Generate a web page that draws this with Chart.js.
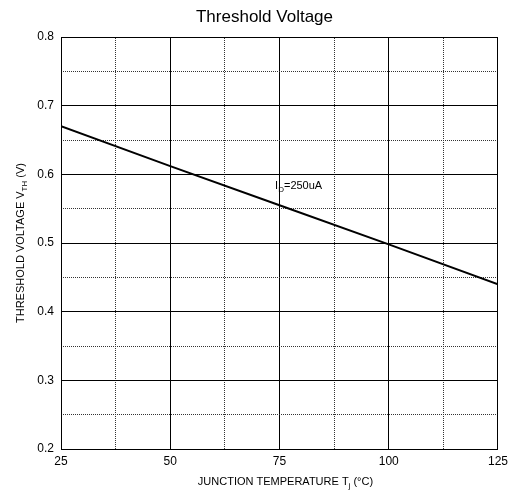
<!DOCTYPE html>
<html lang="en">
<head>
  <meta charset="UTF-8">
  <title>Threshold Voltage</title>
  <script src="https://cdn.jsdelivr.net/npm/chart.js"></script>
  <style>
    body { margin: 0; background: #fff; }
  </style>
</head>
<body>
  <canvas id="vthChart" width="513" height="494"></canvas>

  <script>
    // junction temperature (°C) and threshold voltage (V)
    const tempC = [25, 50, 75, 100, 125];
    const vth = [0.670, 0.612, 0.555, 0.498, 0.440];

    const xTicks = [25, 50, 75, 100, 125];
    const xMinor = [37.5, 62.5, 87.5, 112.5];
    const yTicks = [0.2, 0.3, 0.4, 0.5, 0.6, 0.7, 0.8];
    const yMinor = [0.25, 0.35, 0.45, 0.55, 0.65, 0.75];

    const FONT = '"Liberation Sans", Arial, sans-serif';

    // draws a run of text with optional subscript parts
    function drawRich(ctx, parts, x, y, size, align) {
      const subSize = Math.round(size * 0.7);
      let total = 0;
      parts.forEach(p => {
        ctx.font = (p.sub ? subSize : size) + 'px ' + FONT;
        p.w = ctx.measureText(p.t).width;
        total += p.w;
      });
      let cx = align === 'center' ? x - total / 2 : x;
      parts.forEach(p => {
        ctx.font = (p.sub ? subSize : size) + 'px ' + FONT;
        ctx.fillText(p.t, cx, p.sub ? y + 3 : y);
        cx += p.w;
      });
    }

    const labelsPlugin = {
      id: 'labels',
      afterDraw(chart) {
        const ctx = chart.ctx;
        const area = chart.chartArea;
        const sx = chart.scales.x, sy = chart.scales.y;
        ctx.save();
        ctx.fillStyle = '#000';
        ctx.textAlign = 'left';
        ctx.textBaseline = 'alphabetic';

        // annotation
        drawRich(ctx, [{t: 'I'}, {t: 'D', sub: true}, {t: '=250uA'}],
          sx.getPixelForValue(74), sy.getPixelForValue(0.579), 11, 'left');

        // x axis title
        drawRich(ctx, [{t: 'JUNCTION TEMPERATURE T'}, {t: 'j', sub: true}, {t: ' (°C)'}],
          (area.left + area.right) / 2 + 6, 485, 11, 'center');

        // y axis title
        ctx.translate(24, (area.top + area.bottom) / 2);
        ctx.rotate(-Math.PI / 2);
        drawRich(ctx, [{t: 'THRESHOLD VOLTAGE V'}, {t: 'TH', sub: true}, {t: ' (V)'}],
          0, 0, 11, 'center');
        ctx.restore();
      }
    };

    const ctx = document.getElementById('vthChart').getContext('2d');

    new Chart(ctx, {
      type: 'line',
      data: {
        datasets: [{
          data: tempC.map((t, i) => ({x: t, y: vth[i]})),
          borderColor: '#000',
          borderWidth: 2,
          pointRadius: 0,
          fill: false,
          tension: 0
        }]
      },
      options: {
        responsive: false,
        animation: false,
        layout: { padding: { left: 31, right: 15, top: 0, bottom: 0 } },
        plugins: {
          legend: { display: false },
          tooltip: { enabled: false },
          title: {
            display: true,
            text: 'Threshold Voltage',
            color: '#000',
            font: { family: FONT, size: 17, weight: 'normal' },
            padding: { top: 7, bottom: 9.6 }
          }
        },
        scales: {
          x: {
            type: 'linear',
            position: 'bottom',
            min: 25,
            max: 125,
            afterBuildTicks: s => { s.ticks = xTicks.map(v => ({value: v})); },
            afterFit: s => { s.height = 45; },
            grid: { color: '#000', lineWidth: 1, drawTicks: false },
            border: { color: '#000', width: 1 },
            ticks: { color: '#000', padding: 5, font: { family: FONT, size: 12 }, maxRotation: 0 }
          },
          xm: {
            type: 'linear',
            position: 'top',
            min: 25,
            max: 125,
            afterBuildTicks: s => { s.ticks = xMinor.map(v => ({value: v})); },
            afterFit: s => { s.height = 0; },
            grid: { color: '#333', lineWidth: 1, drawTicks: false },
            border: { color: '#000', width: 1, dash: [1, 1] },
            ticks: { display: false }
          },
          y: {
            type: 'linear',
            position: 'left',
            min: 0.2,
            max: 0.8,
            afterBuildTicks: s => { s.ticks = yTicks.map(v => ({value: v})); },
            afterFit: s => { s.width = 30; },
            grid: { color: '#000', lineWidth: 1, drawTicks: false },
            border: { color: '#000', width: 1 },
            ticks: {
              color: '#000',
              padding: 7,
              font: { family: FONT, size: 12 },
              callback: v => v.toFixed(1)
            }
          },
          ym: {
            type: 'linear',
            position: 'right',
            min: 0.2,
            max: 0.8,
            afterBuildTicks: s => { s.ticks = yMinor.map(v => ({value: v})); },
            afterFit: s => { s.width = 0; },
            grid: { color: '#333', lineWidth: 1, drawTicks: false },
            border: { color: '#000', width: 1, dash: [1, 1] },
            ticks: { display: false }
          }
        }
      },
      plugins: [labelsPlugin]
    });
  </script>
</body>
</html>
